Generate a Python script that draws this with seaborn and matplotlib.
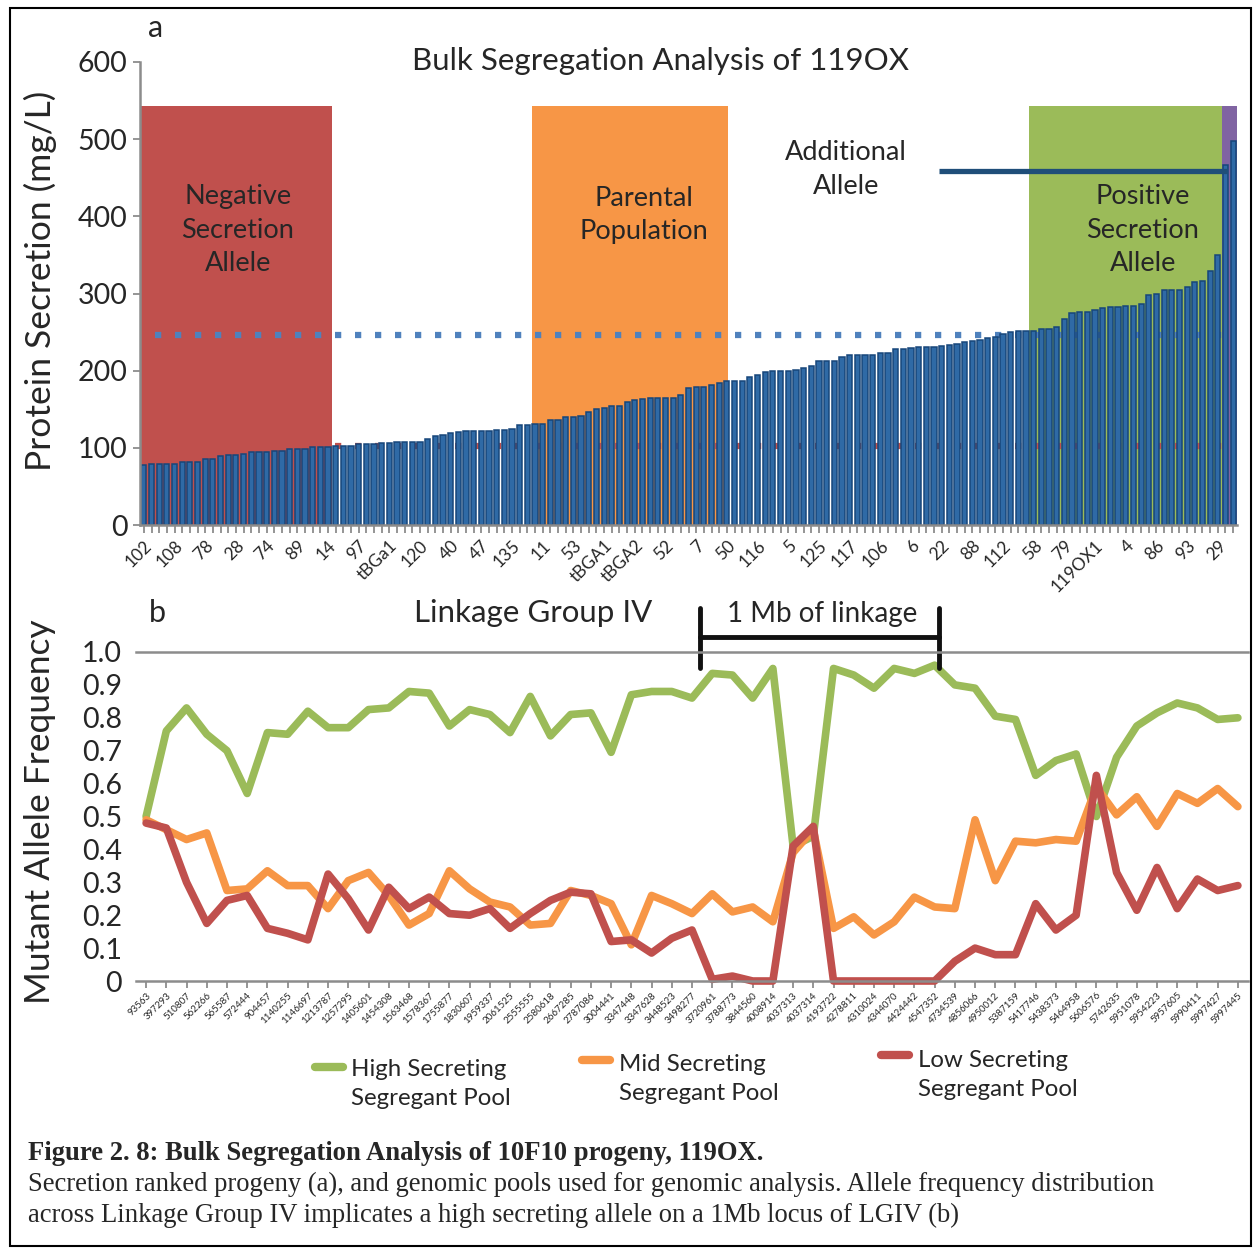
import numpy as np
import pandas as pd
import matplotlib
matplotlib.use("Agg")
import matplotlib.pyplot as plt
import seaborn as sns
from matplotlib.lines import Line2D
from matplotlib.patches import Rectangle

# ---------------- data: panel a ----------------
secretion = [78, 79, 79, 79, 79, 82, 82, 82, 85, 85, 89, 91, 91, 92, 95, 95, 95, 96, 96, 98,
             98, 98, 101, 101, 101, 103, 103, 103, 105, 105, 105, 106, 106, 107.5, 107.5, 107.5, 107.5, 111, 115.5, 117,
             119, 120, 122, 122, 122, 122, 123.5, 123.5, 125, 130, 130, 131.5, 131.5, 136, 136, 139.5, 139.5, 141, 146, 150,
             152, 154, 154, 159, 162, 163.5, 165, 165, 164.5, 165, 168, 177, 179, 179, 182, 184.5, 186, 186, 186, 192,
             195, 198, 199.6, 199.6, 199.6, 201, 203, 206, 212.5, 212.5, 212.5, 218, 220, 220, 220, 220, 223, 223, 227.6, 227.6,
             229, 230.6, 230.6, 230.6, 232, 233.6, 235, 236.6, 238, 240, 242, 244, 248, 250, 252, 252, 252, 254, 254, 257,
             267, 274.6, 276, 276, 278, 280.6, 282, 282, 283.6, 283.6, 287, 298, 300, 304, 304, 305, 308.6, 314.6, 316, 329.7,
             350, 466, 497]
bar_tick_labels = ["102", "108", "78", "28", "74", "89", "14", "97", "tBGa1", "120", "40", "47", "135", "11",
                   "53", "tBGA1", "tBGA2", "52", "7", "50", "116", "5", "125", "117", "106", "6", "22", "88",
                   "112", "58", "79", "119OX1", "4", "86", "93", "29"]
label_every = 4
high_threshold = 246
low_threshold = 103
additional_allele_level = 459
region_names = ["Negative\nSecretion\nAllele", "Parental\nPopulation", "Positive\nSecretion\nAllele", ""]
region_bars = [(-0.5, 24.5), (50.6, 76.1), (115.4, 140.5), (140.5, 143.8)]
region_colors = ["#c0504d", "#f79646", "#9bbb59", "#8064a2"]
region_top = 543

# ---------------- data: panel b ----------------
positions = ["93563", "397293", "510807", "562266", "565587", "572444", "904457", "1140255", "1146697",
             "1213787", "1257295", "1405601", "1454308", "1563468", "1578367", "1755877", "1830607",
             "1959337", "2061525", "2555555", "2580618", "2667285", "2787086", "3004441", "3347448",
             "3347628", "3448523", "3498277", "3720961", "3788773", "3844560", "4008914", "4037313",
             "4037314", "4193722", "4278811", "4310024", "4344070", "4424442", "4547352", "4734539",
             "4856066", "4950012", "5387159", "5417746", "5438373", "5464958", "5606576", "5742635",
             "5951078", "5954223", "5957605", "5990411", "5997427", "5997445"]
high = [0.50, 0.76, 0.83, 0.75, 0.70, 0.57, 0.755, 0.75, 0.82, 0.77, 0.77, 0.825, 0.83, 0.88, 0.875,
        0.775, 0.825, 0.81, 0.755, 0.865, 0.745, 0.81, 0.815, 0.695, 0.87, 0.88, 0.88, 0.86, 0.935,
        0.93, 0.86, 0.95, 0.41, 0.44, 0.95, 0.93, 0.89, 0.95, 0.935, 0.96, 0.90, 0.89, 0.805, 0.795,
        0.625, 0.67, 0.69, 0.50, 0.68, 0.775, 0.815, 0.845, 0.83, 0.795, 0.80]
mid = [0.49, 0.46, 0.43, 0.45, 0.275, 0.28, 0.335, 0.29, 0.29, 0.22, 0.305, 0.33, 0.26, 0.17, 0.205,
       0.335, 0.28, 0.24, 0.225, 0.17, 0.175, 0.275, 0.26, 0.235, 0.11, 0.26, 0.235, 0.205, 0.265,
       0.21, 0.225, 0.18, 0.39, 0.46, 0.16, 0.195, 0.14, 0.18, 0.255, 0.225, 0.22, 0.49, 0.305, 0.425,
       0.42, 0.43, 0.425, 0.59, 0.505, 0.56, 0.47, 0.57, 0.54, 0.585, 0.53]
low = [0.48, 0.465, 0.30, 0.175, 0.245, 0.26, 0.16, 0.145, 0.125, 0.325, 0.25, 0.155, 0.285, 0.22,
       0.255, 0.205, 0.20, 0.22, 0.16, 0.205, 0.245, 0.27, 0.265, 0.12, 0.125, 0.085, 0.13, 0.155,
       0.005, 0.015, 0.0, 0.0, 0.41, 0.47, 0.0, 0.0, 0.0, 0.0, 0.0, 0.0, 0.06, 0.10, 0.08, 0.08,
       0.235, 0.155, 0.20, 0.625, 0.33, 0.215, 0.345, 0.22, 0.31, 0.275, 0.29]
pool_names = ["High Secreting\nSegregant Pool", "Mid Secreting\nSegregant Pool", "Low Secreting\nSegregant Pool"]
pool_colors = ["#9bbb59", "#f79646", "#c0504d"]
linkage_span = (27.4, 39.2)

# ---------------- figure ----------------
W, H = 1257, 1249
sns.set_style("white")
plt.rcParams['font.family'] = ['Lato', 'DejaVu Sans']
fig = plt.figure(figsize=(W / 100, H / 100), dpi=100)


def fx(x):
    return x / W


def fy(y):
    return 1 - y / H


GRAY = "#8c8c8c"

# ---------- panel a ----------
axa = fig.add_axes([fx(140), fy(525), (1237 - 140) / W, (525 - 62) / H])
df_a = pd.DataFrame({"rank": np.arange(len(secretion)), "secretion": secretion})
for (x0, x1), c in zip(region_bars, region_colors):
    axa.axvspan(x0, x1, ymin=0, ymax=region_top / 600, color=c, lw=0, zorder=0)
axa.hlines(high_threshold, 1.5, 140.5, colors="#4f81bd", linestyles=(0, (1, 2.2)), lw=4.5, zorder=1)
axa.hlines(low_threshold, 1.5, 140.5, colors="#c0504d", linestyles=(0, (1, 2.2)), lw=4.5, zorder=1)
sns.barplot(data=df_a, x="rank", y="secretion", ax=axa, color="#2f6aa6", saturation=1,
            width=0.68, edgecolor="#17467a", linewidth=1.1, zorder=2)
axa.plot([103.7, 141.2], [additional_allele_level] * 2, color="#1f4e79", lw=3.8, zorder=4,
         solid_capstyle="butt")
axa.set_xlim(-0.5, len(secretion) - 0.5)
axa.set_ylim(0, 600)
axa.set_yticks([0, 100, 200, 300, 400, 500, 600])
axa.set_yticklabels(["0", "100", "200", "300", "400", "500", "600"], fontsize=20.5)
axa.set_xticks(np.arange(0, len(secretion), label_every))
axa.set_xticklabels(bar_tick_labels, rotation=45, ha="right", rotation_mode="anchor", fontsize=12.5)
axa.set_xticks(np.arange(len(secretion)), minor=True)
axa.tick_params(axis="x", which="both", length=6, width=1.3, color=GRAY, direction="out", bottom=True, pad=3)
axa.tick_params(axis="y", length=5, width=1.3, color=GRAY, direction="out", left=True, pad=4)
axa.set_xlabel("")
axa.set_ylabel("")
for s in ["top", "right"]:
    axa.spines[s].set_visible(False)
for s in ["left", "bottom"]:
    axa.spines[s].set_color(GRAY)
    axa.spines[s].set_linewidth(1.8)

fig.text(fx(40), fy(281), "Protein Secretion (mg/L)", rotation=90, ha="center", va="center", fontsize=25.5)
fig.text(fx(661), fy(61), "Bulk Segregation Analysis of 119OX", ha="center", va="center", fontsize=22.5)
fig.text(fx(156), fy(28), "a", ha="center", va="center", fontsize=22)
fig.text(fx(238), fy(230), region_names[0], ha="center", va="center", fontsize=19.5, linespacing=1.42)
fig.text(fx(644), fy(215), region_names[1], ha="center", va="center", fontsize=19.5, linespacing=1.42)
fig.text(fx(1143), fy(230), region_names[2], ha="center", va="center", fontsize=19.5, linespacing=1.42)
fig.text(fx(846), fy(170), "Additional\nAllele", ha="center", va="center", fontsize=19.5, linespacing=1.45)

# ---------- panel b ----------
axb = fig.add_axes([fx(136), fy(981), 1112 / W, 329 / H])
xi = np.arange(len(positions))
for vals, c in zip([high, mid, low], pool_colors):
    sns.lineplot(x=xi, y=vals, ax=axb, color=c, linewidth=5.5, clip_on=False,
                 solid_joinstyle="round", solid_capstyle="round")
axb.set_xlim(-0.5, len(positions) - 0.5)
axb.set_ylim(0, 1.0)
yt = [0, 0.1, 0.2, 0.3, 0.4, 0.5, 0.6, 0.7, 0.8, 0.9, 1.0]
axb.set_yticks(yt)
axb.set_yticklabels(["0"] + [f"{v:.1f}" for v in yt[1:]], fontsize=20.5)
axb.set_xticks(xi)
axb.set_xticklabels(positions, rotation=45, ha="right", rotation_mode="anchor", fontsize=7)
axb.tick_params(axis="x", length=5, width=1.3, color=GRAY, direction="out", bottom=True, pad=2)
axb.tick_params(axis="y", length=0, pad=10)
for s in ["left", "right"]:
    axb.spines[s].set_visible(False)
for s in ["top", "bottom"]:
    axb.spines[s].set_color(GRAY)
    axb.spines[s].set_linewidth(1.8)
axb.set_xlabel("")
axb.set_ylabel("")

# linkage bracket
x0, x1 = linkage_span
axb.plot([x0, x0], [0.951, 1.134], color="#111111", lw=3.5, clip_on=False)
axb.plot([x1, x1], [0.951, 1.134], color="#111111", lw=3.5, clip_on=False)
axb.plot([x0, x1], [1.046, 1.046], color="#111111", lw=3.5, clip_on=False)

fig.text(fx(40), fy(812), "Mutant Allele Frequency", rotation=90, ha="center", va="center", fontsize=25.5)
fig.text(fx(533), fy(613), "Linkage Group IV", ha="center", va="center", fontsize=22.5)
fig.text(fx(157), fy(613), "b", ha="center", va="center", fontsize=22)
fig.text(fx(822), fy(614), "1 Mb of linkage", ha="center", va="center", fontsize=20)

# legend (staggered, as in the original)
leg_pos = [(315, 1067, 351, 1084), (582, 1060, 619, 1079), (881, 1055, 918, 1075)]
for (hx, hy, tx, ty), name, c in zip(leg_pos, pool_names, pool_colors):
    fig.add_artist(Line2D([fx(hx), fx(hx + 28)], [fy(hy), fy(hy)], color=c, lw=6,
                          solid_capstyle="round", transform=fig.transFigure))
    fig.text(fx(tx), fy(ty), name, ha="left", va="center", fontsize=17.3, linespacing=1.45)

# caption
fig.text(fx(28), fy(1153), "Figure 2. 8: Bulk Segregation Analysis of 10F10 progeny, 119OX.",
         family="Liberation Serif", weight="bold", fontsize=19.2, ha="left", va="center")
fig.text(fx(28), fy(1184), "Secretion ranked progeny (a), and genomic pools used for genomic analysis. "
         "Allele frequency distribution", family="Liberation Serif", fontsize=19.2, ha="left", va="center")
fig.text(fx(28), fy(1215), "across Linkage Group IV implicates a high secreting allele on a 1Mb locus of LGIV (b)",
         family="Liberation Serif", fontsize=19.2, ha="left", va="center")

# outer frame
fig.add_artist(Rectangle((fx(10), fy(1246)), (1251 - 10) / W, (1246 - 8) / H, transform=fig.transFigure,
                         fill=False, ec="black", lw=1.5))

fig.savefig("out.png", dpi=100)
